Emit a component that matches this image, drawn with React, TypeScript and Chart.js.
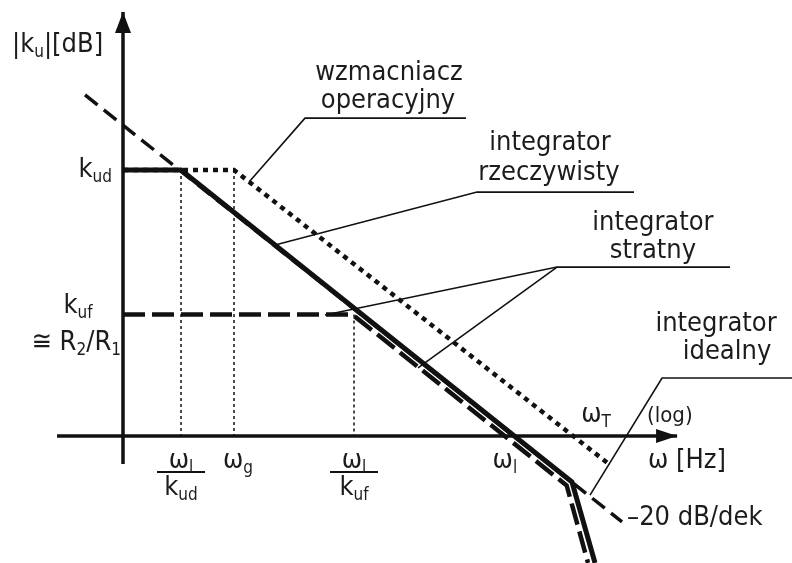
import React, { useEffect, useRef } from "react";
import { Chart, registerables } from "chart.js";

Chart.register(...registerables);

// Canvas size and diagram scale (origin of the axes, pixels per decade / per dB)
const W = 792;
const H = 563;
const ORIGIN = { x: 123, y: 436 };
const PX_PER_DEC = 67;
const PX_PER_DB = 2.66;

// Gain levels [dB]
const KUD_DB = 100;
const KUF_DB = 45.7;

// Frequency markers [decades from the vertical axis]
const W_L_KUD = 0.866; // ωl / kud
const W_G = 1.657; // ωg
const W_L_KUF = 3.448; // ωl / kuf
const W_L = 5.7; // ωl
const W_T = 6.672; // ωT

// Op-amp open-loop response (dotted)
const OPAMP_DEC = [0, W_G, 7.27];
const OPAMP_DB = [KUD_DB, KUD_DB, -10.9];

// Real integrator (solid)
const REAL_DEC = [0, W_L_KUD, 6.701, 7.045];
const REAL_DB = [KUD_DB, KUD_DB, -17.3, -47.7];

// Lossy integrator (thick dashed), drawn alongside the real one
const LOSSY_DEC = [0, 3.403, 3.482, 6.622, 6.94];
const LOSSY_DB = [KUF_DB, KUF_DB, 44.5, -18.6, -47.7];

// Ideal integrator, -20 dB/dek (dashed)
const IDEAL_DEC = [-0.567, 7.448];
const IDEAL_DB = [128.2, -32.3];

// Axes extents
const X_AXIS_DEC = [-0.985, 8.27];
const Y_AXIS_DB = [-10.5, 159.4];

// Callout leader lines [decades, dB]
const LEADER_OPAMP_DEC = [1.881, 2.716, 5.119];
const LEADER_OPAMP_DB = [95.5, 119.5, 119.5];
const LEADER_REAL_DEC = [2.269, 5.284, 7.627];
const LEADER_REAL_DB = [71.8, 91.7, 91.7];
const LEADER_LOSSY_DEC = [3.015, 6.478, 9.06];
const LEADER_LOSSY_DB = [45.5, 63.5, 63.5];
const LEADER_LOSSY2_DEC = [4.403, 6.478];
const LEADER_LOSSY2_DB = [25.6, 63.5];
const LEADER_IDEAL_DEC = [6.97, 8.045, 9.985];
const LEADER_IDEAL_DB = [-22.2, 21.8, 21.8];

type Run = { t: string; sub?: boolean };
type Label = {
  runs: Run[];
  x: number;
  y: number;
  dx?: number;
  dy?: number;
  align?: "left" | "center" | "right";
  size?: number;
};

const LABELS: Label[] = [
  { runs: [{ t: "|k" }, { t: "u", sub: true }, { t: "|[dB]" }], x: -1.657, y: 144.4, align: "left" },
  { runs: [{ t: "k" }, { t: "ud", sub: true }], x: 0, y: KUD_DB, dx: -11, dy: 7, align: "right" },
  { runs: [{ t: "k" }, { t: "uf", sub: true }], x: 0, y: KUF_DB, dx: -45, dy: -1.5, align: "center" },
  { runs: [{ t: "≅ R" }, { t: "2", sub: true }, { t: "/R" }, { t: "1", sub: true }], x: 0, y: KUF_DB, dx: -2, dy: 35.5, align: "right" },
  { runs: [{ t: "ω" }, { t: "l", sub: true }], x: W_L_KUD, y: 0, dy: 32 },
  { runs: [{ t: "k" }, { t: "ud", sub: true }], x: W_L_KUD, y: 0, dy: 59 },
  { runs: [{ t: "ω" }, { t: "g", sub: true }], x: W_G, y: 0, dx: 4, dy: 32 },
  { runs: [{ t: "ω" }, { t: "l", sub: true }], x: W_L_KUF, y: 0, dy: 32 },
  { runs: [{ t: "k" }, { t: "uf", sub: true }], x: W_L_KUF, y: 0, dy: 59 },
  { runs: [{ t: "ω" }, { t: "l", sub: true }], x: W_L, y: 0, dy: 32 },
  { runs: [{ t: "ω" }, { t: "T", sub: true }], x: W_T, y: 0, dx: 26, dy: -14 },
  { runs: [{ t: "(log)" }], x: 7.821, y: 0, dy: -14, align: "left", size: 22 },
  { runs: [{ t: "ω [Hz]" }], x: 7.836, y: 0, dy: 32, align: "left" },
  { runs: [{ t: "wzmacniacz" }], x: 3.97, y: 133.8 },
  { runs: [{ t: "operacyjny" }], x: 3.955, y: 123.3 },
  { runs: [{ t: "integrator" }], x: 6.373, y: 107.5 },
  { runs: [{ t: "rzeczywisty" }], x: 6.358, y: 96.2 },
  { runs: [{ t: "integrator" }], x: 7.91, y: 77.4 },
  { runs: [{ t: "stratny" }], x: 7.91, y: 66.9 },
  { runs: [{ t: "integrator" }], x: 8.851, y: 39.5 },
  { runs: [{ t: "idealny" }], x: 9.015, y: 28.9 },
  { runs: [{ t: "–20 dB/dek" }], x: IDEAL_DEC[1], y: IDEAL_DB[1], dx: 5, dy: 3, align: "left" },
];

// Fraction bars under the ωl/kud and ωl/kuf ticks
const FRACTIONS = [W_L_KUD, W_L_KUF];

const INK = "#111";
const TEXT = "#1c1c1c";
const FONT_FAMILY = '"DejaVu Sans Condensed", "DejaVu Sans", sans-serif';
const MAIN_SIZE = 27;

const font = (size: number) => `${size}px ${FONT_FAMILY}`;

function series(
  xs: number[],
  ys: number[],
  width: number,
  dash: number[] = [],
  cap: CanvasLineCap = "butt"
) {
  return {
    data: xs.map((x, i) => ({ x, y: ys[i] })),
    showLine: true,
    pointRadius: 0,
    borderColor: INK,
    backgroundColor: INK,
    borderWidth: width,
    borderDash: dash,
    borderCapStyle: cap,
    borderJoinStyle: "miter" as CanvasLineJoin,
    fill: false,
    tension: 0,
  };
}

const annotations = {
  id: "bodeAnnotations",
  afterDatasetsDraw(chart: Chart) {
    const ctx = chart.ctx;
    const sx = chart.scales.x;
    const sy = chart.scales.y;
    const px = (v: number) => sx.getPixelForValue(v);
    const py = (v: number) => sy.getPixelForValue(v);
    ctx.save();

    // Arrowheads at the ends of both axes
    ctx.fillStyle = INK;
    const yTipX = px(0);
    const yTipY = py(Y_AXIS_DB[1]);
    ctx.beginPath();
    ctx.moveTo(yTipX, yTipY);
    ctx.lineTo(yTipX - 8, yTipY + 21);
    ctx.lineTo(yTipX + 8, yTipY + 21);
    ctx.closePath();
    ctx.fill();
    const xTipX = px(X_AXIS_DEC[1]);
    const xTipY = py(0);
    ctx.beginPath();
    ctx.moveTo(xTipX, xTipY);
    ctx.lineTo(xTipX - 21, xTipY - 7);
    ctx.lineTo(xTipX - 21, xTipY + 7);
    ctx.closePath();
    ctx.fill();

    // Fraction bars
    ctx.strokeStyle = INK;
    ctx.lineWidth = 2;
    for (const f of FRACTIONS) {
      const cx = px(f);
      const y = py(0) + 36;
      ctx.beginPath();
      ctx.moveTo(cx - 24, y);
      ctx.lineTo(cx + 24, y);
      ctx.stroke();
    }

    // Text
    ctx.fillStyle = TEXT;
    ctx.textBaseline = "alphabetic";
    ctx.textAlign = "left";
    for (const l of LABELS) {
      const size = l.size ?? MAIN_SIZE;
      const subSize = Math.round(size * 0.63);
      const widths = l.runs.map((r) => {
        ctx.font = font(r.sub ? subSize : size);
        return ctx.measureText(r.t).width;
      });
      const total = widths.reduce((a, b) => a + b, 0);
      const ax = px(l.x) + (l.dx ?? 0);
      const ay = py(l.y) + (l.dy ?? 0);
      const align = l.align ?? "center";
      let cx = align === "left" ? ax : align === "right" ? ax - total : ax - total / 2;
      l.runs.forEach((r, i) => {
        ctx.font = font(r.sub ? subSize : size);
        ctx.fillText(r.t, cx, ay + (r.sub ? size * 0.2 : 0));
        cx += widths[i];
      });
    }
    ctx.restore();
  },
};

export default function App() {
  const ref = useRef<HTMLCanvasElement | null>(null);

  useEffect(() => {
    if (!ref.current) return;
    const chart = new Chart(ref.current, {
      type: "scatter",
      data: {
        datasets: [
          // dotted guides down to the frequency axis
          series([W_L_KUD, W_L_KUD], [KUD_DB, 0], 1.5, [3, 3]),
          series([W_G, W_G], [KUD_DB, 0], 1.5, [3, 3]),
          series([W_L_KUF, W_L_KUF], [KUF_DB, 0], 1.5, [3, 3]),
          // responses
          series(OPAMP_DEC, OPAMP_DB, 4.5, [5, 5]),
          series(IDEAL_DEC, IDEAL_DB, 3.5, [16, 8]),
          series(LOSSY_DEC, LOSSY_DB, 4.5, [22, 7]),
          series(REAL_DEC, REAL_DB, 5),
          // axes
          series(X_AXIS_DEC, [0, 0], 3.5),
          series([0, 0], Y_AXIS_DB, 3.5),
          // callout leaders
          series(LEADER_OPAMP_DEC, LEADER_OPAMP_DB, 1.6),
          series(LEADER_REAL_DEC, LEADER_REAL_DB, 1.6),
          series(LEADER_LOSSY_DEC, LEADER_LOSSY_DB, 1.6),
          series(LEADER_LOSSY2_DEC, LEADER_LOSSY2_DB, 1.6),
          series(LEADER_IDEAL_DEC, LEADER_IDEAL_DB, 1.6),
        ],
      },
      options: {
        responsive: false,
        maintainAspectRatio: false,
        animation: false,
        events: [],
        layout: { padding: 0 },
        plugins: {
          legend: { display: false },
          tooltip: { enabled: false },
        },
        scales: {
          x: {
            type: "linear",
            display: false,
            min: -ORIGIN.x / PX_PER_DEC,
            max: (W - ORIGIN.x) / PX_PER_DEC,
          },
          y: {
            type: "linear",
            display: false,
            min: -(H - ORIGIN.y) / PX_PER_DB,
            max: ORIGIN.y / PX_PER_DB,
          },
        },
      },
      plugins: [annotations],
    });
    return () => chart.destroy();
  }, []);

  return (
    <div style={{ position: "fixed", left: 0, top: 0, width: W, height: H, background: "#fff" }}>
      <canvas ref={ref} width={W} height={H} style={{ display: "block", width: W, height: H }} />
    </div>
  );
}
